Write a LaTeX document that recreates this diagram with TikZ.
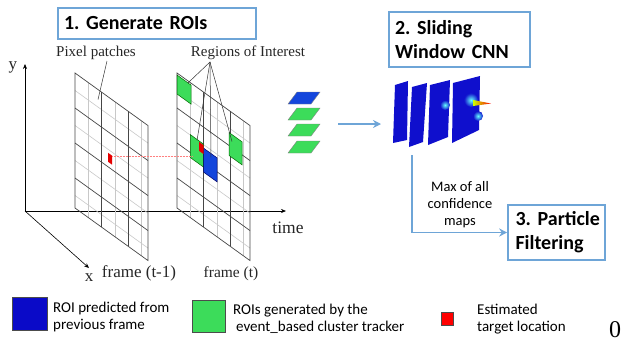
\documentclass[tikz,border=0pt]{standalone}
\usepackage{fontspec}
\setmainfont{Liberation Serif}
\setsansfont{Carlito}
\usetikzlibrary{arrows.meta}
\definecolor{boxblue}{RGB}{110,165,215}
\definecolor{roigreen}{RGB}{60,220,90}
\definecolor{roiblue}{RGB}{20,70,220}
\definecolor{mapblue}{RGB}{15,15,205}
\definecolor{keyblue}{RGB}{10,10,200}
\definecolor{gridlight}{RGB}{200,200,200}
\definecolor{griddark}{RGB}{70,70,70}

\begin{document}
\frenchspacing
\hyphenpenalty=10000
\begin{tikzpicture}[x=1pt, y=-1pt,
        stagebox/.style={rectangle, draw=boxblue, line width=1.6pt, align=left, inner xsep=6pt, font=\sffamily\bfseries\fontsize{20}{24}\selectfont},
        serlabel/.style={font=\fontsize{15}{17}\selectfont, text=black!85},
        keytext/.style={anchor=west, align=left, inner sep=0pt, font=\sffamily\fontsize{15}{17}\selectfont},
        keybox/.style={rectangle, draw=black!70, line width=0.5pt, inner sep=0pt},
        roibox/.style={draw=black!60!green, line width=0.5pt},
        flow/.style={boxblue, line width=1.4pt, -{Stealth[length=8pt,width=8pt]}},
        axisline/.style={line width=0.6pt, -{Stealth[length=5pt,width=4pt]}},
        leader/.style={line width=0.5pt, black!80}
    ]
        \useasboundingbox (0,0) rectangle (624,343);

        % axes
        \coordinate (origin) at (25,211);
        \coordinate (ytip) at (25,64);
        \coordinate (ttip) at (286,211);
        \coordinate (xtip) at (89,268);
        \draw[axisline] (origin) -- (ytip);
        \draw[axisline] (origin) -- (ttip);
        \draw[axisline] (origin) -- (xtip);
        \node[serlabel, font=\fontsize{17}{18}\selectfont] (lbly) at (13,67) {y};
        \node[serlabel, font=\fontsize{17}{18}\selectfont] (lblx) at (89,278) {x};
        \node[serlabel, font=\fontsize{17.5}{19}\selectfont] (lbltime) at (288,228) {time};

        % pixel frames
        \foreach \fx/\fn in {75/prev,177/cur} {
            \begin{scope}[shift={(\fx,73)}, yslant=-0.72]
                \foreach \u in {13.3,40,66.7} \draw[gridlight, line width=0.6pt] (\u,0) -- (\u,135);
                \foreach \v in {17.5,52.5,87.5,122.5} \draw[gridlight, line width=0.6pt] (0,\v) -- (73,\v);
                \foreach \u in {26.7,53.3} \draw[griddark, line width=0.7pt] (\u,0) -- (\u,135);
                \foreach \v in {35,70,105} \draw[griddark, line width=0.7pt] (0,\v) -- (73,\v);
                \draw[griddark, line width=0.7pt] (0,0) rectangle (73,135);
            \end{scope}
        }

        % frame (t-1): target
        \begin{scope}[shift={(75,73)}, yslant=-0.72]
            \fill[red!90!black] (33,56) rectangle (37,65);
            \coordinate (pixpt) at (23,10);
        \end{scope}

        % frame (t): regions of interest
        \begin{scope}[shift={(177,73)}, yslant=-0.72]
            \draw[roibox, fill=roigreen] (0,2) rectangle (14,21);
            \draw[roibox, fill=roigreen] (13.3,52) rectangle (26.7,75);
            \draw[roibox, fill=roigreen] (52,22) rectangle (65,45);
            \draw[draw=black!60!blue, line width=0.5pt, fill=roiblue] (26.7,56) rectangle (40,80);
            \fill[red!90!black] (22,53) rectangle (26.7,62);
            \coordinate (roia) at (11,2);
            \coordinate (roib) at (20,53);
            \coordinate (roic) at (34,60);
            \coordinate (roid) at (55,29);
        \end{scope}

        % track of the target
        \coordinate (trackA) at (112,156);
        \coordinate (trackB) at (192,156);
        \draw[red!50, line width=0.5pt, densely dotted] (trackA) -- (trackB);

        \node[serlabel] (lblpix) at (96,53) {Pixel patches};
        \node[serlabel] (lblroi) at (248,53) {Regions of Interest};
        \coordinate (pixtop) at (107,61);
        \coordinate (roiapex) at (210,62);
        \draw[leader] (pixtop) -- (pixpt);
        \foreach \r in {roia,roib,roic,roid} \draw[leader] (roiapex) -- (\r);

        \node[serlabel, font=\fontsize{17}{18}\selectfont] (lblprev) at (139,273) {frame (t-1)};
        \node[serlabel, font=\fontsize{15.5}{17}\selectfont] (lblcur) at (231,274) {frame (t)};

        % stacked ROIs
        \foreach \y/\c in {92/roiblue,108/roigreen,124/roigreen,141/roigreen}
            \draw[draw=black!50, line width=0.4pt, fill=\c] (288,\y+12) -- (311,\y+12) -- (320,\y) -- (297,\y) -- cycle;

        \coordinate (stackR) at (338,124);
        \coordinate (cnnL) at (381,124);
        \draw[flow] (stackR) -- (cnnL);

        % confidence maps
        \fill[mapblue] (395,85) -- (408,81) -- (407,140) -- (393,143) -- cycle;
        \fill[mapblue] (412,87) -- (427,83) -- (423,142) -- (409,147) -- cycle;
        \fill[mapblue] (430,85) -- (450,80) -- (448,137) -- (428,145) -- cycle;
        \fill[mapblue] (453,83) -- (480,76) -- (479,130) -- (452,143) -- cycle;
        \shade[inner color=cyan!60!white, outer color=mapblue] (445,105) circle (5);
        \shade[inner color=cyan!60!white, outer color=mapblue] (471,100) circle (7);
        \shade[inner color=cyan!60!white, outer color=mapblue] (478,116) circle (5);
        \shade[left color=yellow!80!green, right color=red] (473,100) -- (491,103.5) -- (473,106) -- cycle;

        % stages
        \node[stagebox, minimum width=198pt, minimum height=31pt, text width=186pt] (genroi) at (157,23.5) {1. Generate ROIs};
        \node[stagebox, minimum width=141pt, minimum height=55pt, text width=129pt] (cnnbox) at (459.5,39.5) {2. Sliding\\Window CNN};
        \node[stagebox, minimum width=97pt, minimum height=55pt, text width=88pt, inner xsep=4.5pt] (pfbox) at (556.5,232.5) {\hspace{3pt}3. Particle\\\hspace{3pt}Filtering};

        \coordinate (cnnout) at (412,155);
        \draw[flow] (cnnout) |- (pfbox.west);
        \node[align=center, font=\sffamily\fontsize{14.5}{17}\selectfont] (lblmax) at (460,205) {Max of all\\confidence\\maps};

        % legend
        \node[keybox, fill=keyblue, minimum width=35pt, minimum height=33pt] (keypred) at (29.5,313.5) {};
        \node[keytext] (txtpred) at (53,316.5) {ROI predicted from\\previous frame};
        \node[keybox, fill=roigreen, minimum width=33pt, minimum height=32pt] (keygen) at (208.5,316) {};
        \node[keytext] (txtgen) at (233,318.5) {ROIs generated by the\\\hspace{3pt}event\_based cluster tracker};
        \node[keybox, fill=red, minimum width=12pt, minimum height=13pt] (keytarget) at (447,318.5) {};
        \node[keytext] (txttarget) at (477,319) {Estimated\\target location};

        \node[inner sep=0pt, font=\fontsize{24}{26}\selectfont] (zero) at (615,330) {0};
    \end{tikzpicture}
\end{document}
